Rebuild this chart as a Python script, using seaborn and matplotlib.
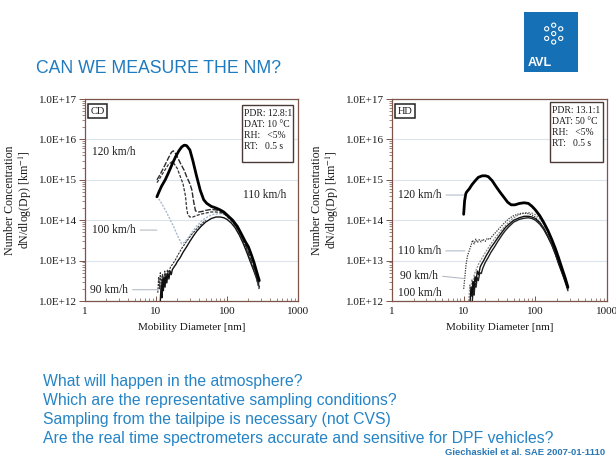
import numpy as np
import pandas as pd
import matplotlib
matplotlib.use('Agg')
import matplotlib.pyplot as plt
import seaborn as sns
from matplotlib.patches import Rectangle

# ---- data ----
# CD: cold dilution
cd_120_d = [10.3, 11, 12, 13.5, 15, 17, 19, 21, 23, 25, 27, 30, 33, 37, 42, 47, 52, 60, 70, 80, 90, 100, 120, 140,
            160, 180, 200, 220, 240, 260, 285]
cd_120_c = [3.8e14, 5e14, 7e14, 1.0e15, 1.5e15, 2.5e15, 3.8e15, 5.2e15, 6.5e15, 7.2e15, 7.0e15, 5.5e15, 3.0e15, 1.3e15,
            5.5e14, 3.2e14, 2.6e14, 2.2e14, 2.0e14, 1.8e14, 1.6e14, 1.35e14, 1.0e14, 7e13, 4.5e13, 3.0e13, 2.2e13,
            1.4e13, 9e12, 5.5e12, 3.2e12]

cd_110a_d = [10.3, 11, 12, 13.5, 15, 16.5, 17.5, 19, 22, 25, 27, 30, 32, 34, 36, 40, 45, 50, 60, 70, 80, 90, 100, 120,
             140, 160, 180, 200, 220, 240, 260, 285]
cd_110a_c = [1.0e15, 1.2e15, 1.6e15, 2.4e15, 3.5e15, 4.8e15, 5.2e15, 4.4e15, 2.6e15, 1.7e15, 1.2e15, 8e14, 5.6e14,
             2.8e14, 1.7e14, 1.6e14, 1.65e14, 1.75e14, 1.85e14, 1.8e14, 1.7e14, 1.5e14, 1.3e14, 9.5e13, 6.5e13,
             4.2e13, 2.6e13, 1.6e13, 1.0e13, 6.5e12, 4.2e12, 2.6e12]

cd_110b_d = [10.3, 11, 12, 13.5, 15, 16.8, 18, 20, 22, 24, 26, 27, 28, 30, 33, 37, 42, 50, 60, 70, 80, 90, 100, 120,
             140, 160, 180, 200, 220, 240, 260, 285]
cd_110b_c = [8.5e14, 1.0e15, 1.3e15, 1.8e15, 2.4e15, 2.8e15, 2.5e15, 1.9e15, 1.2e15, 8e14, 4e14, 2e14, 1.4e14, 1.2e14,
             1.2e14, 1.3e14, 1.4e14, 1.5e14, 1.6e14, 1.6e14, 1.55e14, 1.45e14, 1.25e14, 9e13, 6e13, 3.8e13, 2.4e13,
             1.5e13, 9e12, 5.8e12, 3.6e12, 2.0e12]

cd_100_d = [10.3, 12, 14, 16, 18, 20, 23, 25, 28, 32, 37, 45, 55, 65, 80, 90, 100, 120, 140, 160, 180, 200, 220, 240,
            260, 285]
cd_100_c = [4e14, 2.6e14, 1.6e14, 1e14, 6.5e13, 4.2e13, 2.6e13, 2.8e13, 3.5e13, 5e13, 7e13, 1e14, 1.25e14, 1.4e14,
            1.45e14, 1.4e14, 1.25e14, 9e13, 6e13, 3.8e13, 2.3e13, 1.4e13, 8.5e12, 5.5e12, 3.4e12, 1.8e12]

cd_90_d = [11.5, 11.8, 12.1, 12.4, 12.7, 13.0, 13.4, 13.8, 14.2, 14.7, 15.2, 15.8, 16.4, 17, 18, 19, 20, 22, 24, 27, 30,
           34, 38, 43, 50, 60, 70, 80, 90, 100, 115, 130, 150, 170, 190, 210, 235, 260, 285]
cd_90_c = [1e12, 2.5e12, 1.2e12, 3.5e12, 1.8e12, 4e12, 2.2e12, 4.5e12, 2.8e12, 5e12, 3.5e12, 5.5e12, 4.5e12, 6e12, 7e12,
           8e12, 9.5e12, 1.2e13, 1.6e13, 2.2e13, 3e13, 4.2e13, 5.5e13, 7e13, 9e13, 1.1e14, 1.2e14, 1.2e14, 1.15e14,
           1.05e14, 8.5e13, 6.5e13, 4.2e13, 2.6e13, 1.6e13, 1e13, 6e12, 3.8e12, 2.2e12]

cd_90b_d = [10.6, 10.9, 11.2, 11.5, 11.9, 12.3, 12.8, 13.3, 13.9, 14.5, 15.2, 16, 17, 18.5, 20, 23, 27, 32, 40, 50]
cd_90b_c = [1.6e12, 4e12, 2e12, 5e12, 2.5e12, 4.5e12, 3e12, 5.5e12, 3.5e12, 6e12, 5e12, 7e12, 8e12, 1e13, 1.3e13,
            2e13, 3e13, 4.5e13, 7e13, 1e14]

# HD: hot dilution
hd_120_d = [10.0, 10.3, 10.7, 11, 12, 13, 14.5, 16, 18, 20, 22, 25, 28, 32, 36, 41, 46, 52, 60, 70, 80, 90, 100, 115,
            130, 150, 170, 190, 210, 235, 260, 285]
hd_120_c = [1.4e14, 3e14, 4.5e14, 5e14, 6e14, 7.5e14, 9.5e14, 1.15e15, 1.25e15, 1.26e15, 1.2e15, 9.5e14, 7e14, 5e14,
            3.8e14, 2.8e14, 2.4e14, 2.4e14, 2.6e14, 2.7e14, 2.6e14, 2.2e14, 1.8e14, 1.3e14, 9e13, 5.5e13, 3.3e13,
            2e13, 1.2e13, 6.5e12, 3.8e12, 2.2e12]

hd_110_d = [10.0, 10.4, 10.8, 11.3, 12, 12.7, 13.3, 14, 14.8, 15.6, 16.5, 17.5, 18.5, 20, 21.5, 23, 25, 28, 32, 37, 43,
            50, 60, 70, 80, 90, 100, 115, 130, 150, 170, 190, 210, 235, 260, 285]
hd_110_c = [2e12, 4e12, 8e12, 1.3e13, 1.8e13, 2.4e13, 3.2e13, 2.6e13, 3.4e13, 2.8e13, 3.3e13, 2.9e13, 3.4e13, 3e13,
            3.6e13, 3.3e13, 4e13, 5e13, 6.5e13, 8.5e13, 1.1e14, 1.3e14, 1.45e14, 1.5e14, 1.45e14, 1.35e14, 1.2e14,
            9e13, 6.5e13, 4e13, 2.5e13, 1.5e13, 9e12, 5.5e12, 3.2e12, 2e12]

hd_90_d = [12.3, 12.7, 13.1, 13.5, 13.9, 14.4, 14.9, 15.5, 16.2, 17, 18, 19, 20.5, 22, 24, 27, 30, 34, 38, 43, 50, 60, 70,
           80, 90, 100, 115, 130, 150, 170, 190, 210, 235, 260, 285]
hd_90_c = [1e12, 2.2e12, 1.3e12, 3e12, 2e12, 4e12, 3e12, 5.5e12, 4.5e12, 7e12, 8.5e12, 1e13, 1.3e13, 1.6e13, 2.1e13,
           2.8e13, 3.7e13, 5e13, 6.5e13, 8e13, 1e14, 1.15e14, 1.25e14, 1.25e14, 1.2e14, 1.1e14, 8.8e13, 6.5e13, 4e13,
           2.5e13, 1.5e13, 9e12, 5.2e12, 3.2e12, 2e12]

hd_100_d = [13.2, 13.6, 14.0, 14.4, 14.9, 15.4, 16, 16.8, 17.6, 18.5, 20, 22, 24, 27, 30, 34, 38, 43, 50, 60, 70, 80, 90,
            100, 115, 130, 150, 170, 190, 210, 235, 260, 285]
hd_100_c = [1e12, 2e12, 1.4e12, 2.8e12, 2.2e12, 3.8e12, 3.2e12, 5e12, 4.8e12, 6.5e12, 9e12, 1.2e13, 1.6e13, 2.2e13,
            3e13, 4.2e13, 5.5e13, 7e13, 9e13, 1.05e14, 1.12e14, 1.15e14, 1.1e14, 1.0e14, 8e13, 6e13, 3.8e13, 2.4e13,
            1.45e13, 8.5e12, 5e12, 3e12, 1.8e12]

hd_105_d = [11.8, 12.2, 12.6, 13.0, 13.5, 14, 15, 16, 17.5, 19, 21, 24, 28, 33, 40, 48, 58, 70, 80, 90, 100, 115, 130,
            150, 170, 190, 210, 235, 260, 285]
hd_105_c = [1e12, 2.5e12, 1.5e12, 3.5e12, 2.6e12, 4.5e12, 6e12, 8e12, 1.05e13, 1.35e13, 1.8e13, 2.6e13, 3.8e13, 5.5e13,
            8e13, 1.1e14, 1.35e14, 1.5e14, 1.55e14, 1.5e14, 1.38e14, 1.1e14, 8e13, 5e13, 3e13, 1.8e13, 1.05e13, 6e12,
            3.6e12, 2.2e12]

y_ticks = [1e12, 1e13, 1e14, 1e15, 1e16, 1e17]
y_ticklabels = ['1.0E+12', '1.0E+13', '1.0E+14', '1.0E+15', '1.0E+16', '1.0E+17']
x_ticks = [1, 10, 100, 1000]
x_ticklabels = ['1', '10', '100', '1000']

bullets = ['What will happen in the atmosphere?',
           'Which are the representative sampling conditions?',
           'Sampling from the tailpipe is necessary (not CVS)',
           'Are the real time spectrometers accurate and sensitive for DPF vehicles?']

sns.set_style('white')
plt.rcParams['font.family'] = ['Liberation Serif', 'DejaVu Serif']
plt.rcParams['mathtext.fontset'] = 'stix'

fig = plt.figure(figsize=(6.16, 4.68), dpi=100)
fig.patch.set_facecolor('white')

spine_col = '#7d5548'
txt_col = '#1a1a1a'


def draw_curve(ax, d, c, **kw):
    df = pd.DataFrame({'d': d, 'c': c})
    sns.lineplot(data=df, x='d', y='c', ax=ax, estimator=None, legend=False, **kw)


def style_axes(ax):
    ax.set_xscale('log')
    ax.set_yscale('log')
    ax.set_xlim(1, 1000)
    ax.set_ylim(1e12, 1e17)
    ax.set_yticks(y_ticks)
    ax.set_yticklabels(y_ticklabels, fontsize=8, color=txt_col)
    ax.set_xticks(x_ticks)
    ax.set_xticklabels(x_ticklabels, fontsize=8, color=txt_col)
    ax.yaxis.set_minor_locator(matplotlib.ticker.LogLocator(base=10, subs=np.arange(2, 10) * 1.0, numticks=20))
    ax.xaxis.set_minor_locator(matplotlib.ticker.LogLocator(base=10, subs=np.arange(2, 10) * 1.0, numticks=20))
    ax.yaxis.set_minor_formatter(matplotlib.ticker.NullFormatter())
    ax.xaxis.set_minor_formatter(matplotlib.ticker.NullFormatter())
    ax.tick_params(axis='y', which='major', direction='out', length=4, width=0.7, color=spine_col, left=True, pad=2)
    ax.tick_params(axis='y', which='minor', direction='out', length=2.2, width=0.5, color=spine_col, left=True)
    ax.tick_params(axis='x', which='major', direction='in', length=3.5, width=0.7, color=spine_col, bottom=True,
                   pad=4)
    ax.tick_params(axis='x', which='minor', direction='in', length=2.2, width=0.5, color=spine_col, bottom=True)
    for s in ax.spines.values():
        s.set_color(spine_col)
        s.set_linewidth(0.9)
    ax.yaxis.grid(True, which='major', color='#dbe4ee', lw=0.8)
    ax.set_axisbelow(True)
    ax.set_xlabel('Mobility Diameter [nm]', fontsize=8, color=txt_col, labelpad=5)
    ax.set_ylabel('Number Concentration\ndN/dlog(Dp) [km$^{-1}$]', fontsize=8.6, color=txt_col, labelpad=3,
                  linespacing=1.1)


def param_box(ax, x0, x1, y0, y1, text):
    ax.add_patch(Rectangle((x0, y0), x1 - x0, y1 - y0, transform=ax.transAxes, fc='white', ec='#4a3a36',
                           lw=1.0, zorder=5))
    ax.text(x0 + 0.01, y1 - 0.018, text, transform=ax.transAxes, fontsize=6.9, va='top', ha='left',
            color=txt_col, linespacing=1.28, zorder=6)


lead = dict(arrowstyle='-', color='#a9b4bf', lw=0.7, shrinkA=1, shrinkB=0, relpos=(1, 0.5))

# ---- left: CD ----
ax1 = fig.add_axes([85 / 616, 1 - 301 / 468, 213 / 616, 202 / 468])
draw_curve(ax1, cd_100_d, cd_100_c, color='#a7b9cc', lw=1.0, linestyle=(0, (1.5, 1)))
draw_curve(ax1, cd_90b_d, cd_90b_c, color='#333333', lw=0.8, linestyle=(0, (2, 1)))
draw_curve(ax1, cd_90_d, cd_90_c, color='#111111', lw=1.0)
draw_curve(ax1, cd_110b_d, cd_110b_c, color='#333333', lw=0.9, linestyle=(0, (2.5, 1.2)))
draw_curve(ax1, cd_110a_d, cd_110a_c, color='#2a2a2a', lw=1.0, linestyle=(0, (4, 1.2)))
draw_curve(ax1, cd_120_d, cd_120_c, color='#000000', lw=2.0)
style_axes(ax1)

ax1.text(0.025, 0.94, 'CD', transform=ax1.transAxes, fontsize=7.5, va='center', ha='left', color=txt_col,
         bbox=dict(boxstyle='square,pad=0.25', fc='white', ec='#222222', lw=1.1))
param_box(ax1, 0.737, 0.977, 0.688, 0.970, 'PDR: 12.8:1\nDAT: 10 \u00b0C\nRH:   <5%\nRT:   0.5 s')
ax1.text(1.25, 4.9e15, '120 km/h', fontsize=8.3, va='center', ha='left', color=txt_col)
ax1.text(168, 4.2e14, '110 km/h', fontsize=8.3, va='center', ha='left', color=txt_col)
ax1.annotate('100 km/h', xy=(10.3, 5.7e13), xytext=(1.25, 5.7e13), fontsize=8.3, va='center', ha='left',
             color=txt_col, arrowprops=lead)
ax1.annotate('90 km/h', xy=(10.6, 1.9e12), xytext=(1.18, 1.9e12), fontsize=8.3, va='center', ha='left',
             color=txt_col, arrowprops=lead)

# ---- right: HD ----
ax2 = fig.add_axes([392 / 616, 1 - 301 / 468, 215 / 616, 202 / 468])
draw_curve(ax2, hd_105_d, hd_105_c, color='#8a8a8a', lw=0.9, linestyle=(0, (1.5, 1)))
draw_curve(ax2, hd_100_d, hd_100_c, color='#222222', lw=1.0)
draw_curve(ax2, hd_90_d, hd_90_c, color='#111111', lw=1.0)
draw_curve(ax2, hd_110_d, hd_110_c, color='#333333', lw=0.9, linestyle=(0, (1, 1)))
draw_curve(ax2, hd_120_d, hd_120_c, color='#000000', lw=2.0)
style_axes(ax2)

ax2.text(0.025, 0.94, 'HD', transform=ax2.transAxes, fontsize=7.5, va='center', ha='left', color=txt_col,
         bbox=dict(boxstyle='square,pad=0.25', fc='white', ec='#222222', lw=1.1))
param_box(ax2, 0.735, 0.981, 0.688, 0.985, 'PDR: 13.1:1\nDAT: 50 \u00b0C\nRH:   <5%\nRT:   0.5 s')
ax2.annotate('120 km/h', xy=(10.0, 4.2e14), xytext=(1.21, 4.2e14), fontsize=8.3, va='center', ha='left',
             color=txt_col, arrowprops=lead)
ax2.annotate('110 km/h', xy=(10.4, 1.74e13), xytext=(1.21, 1.74e13), fontsize=8.3, va='center', ha='left',
             color=txt_col, arrowprops=lead)
ax2.annotate('90 km/h', xy=(10.2, 3.6e12), xytext=(1.3, 4.2e12), fontsize=8.3, va='center', ha='left',
             color=txt_col, arrowprops=lead)
ax2.text(1.21, 1.6e12, '100 km/h', fontsize=8.3, va='center', ha='left', color=txt_col)

# ---- slide decorations ----
blue = '#2584c6'
sans = ['Liberation Sans', 'DejaVu Sans']
fig.text(36 / 616, 1 - 73 / 468, 'CAN WE MEASURE THE NM?', color='#1f7bbf', fontsize=12.7, va='baseline',
         ha='left', family=sans)
for i, line in enumerate(bullets):
    fig.text(43 / 616, 1 - (386 + 19 * i) / 468, line, color=blue, fontsize=11.3, va='baseline', ha='left',
             family=sans)
fig.text(605 / 616, 1 - 455 / 468, 'Giechaskiel et al. SAE 2007-01-1110', color='#2a78b6', fontsize=6.8,
         fontweight='bold', va='baseline', ha='right', family=sans)

logo = fig.add_axes([524 / 616, 1 - 72 / 468, 54 / 616, 60 / 468])
logo.set_facecolor('#1670b5')
logo.set_xlim(0, 1)
logo.set_ylim(0, 1)
logo.set_xticks([])
logo.set_yticks([])
for s in logo.spines.values():
    s.set_visible(False)
logo.text(0.07, 0.15, 'AVL', color='white', fontsize=9, fontweight='bold', va='center', ha='left', family=sans)
logo.scatter([0.42, 0.55, 0.68, 0.42, 0.68, 0.55, 0.55], [0.72, 0.78, 0.72, 0.56, 0.56, 0.50, 0.64], s=9,
             facecolors='none', edgecolors='white', linewidths=0.8)

fig.savefig('out.png', dpi=100)
